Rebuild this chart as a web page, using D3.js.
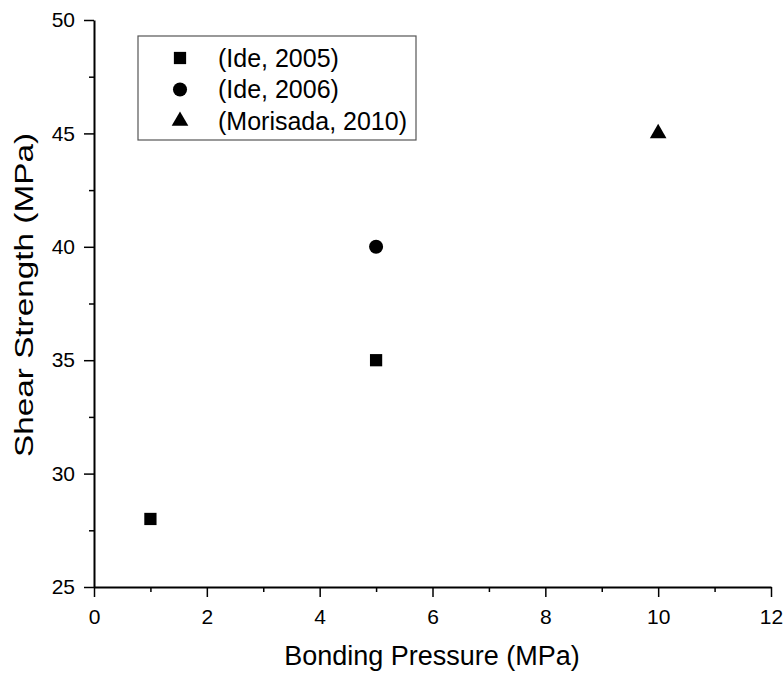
<!DOCTYPE html>
<meta charset="utf-8">
<style>
body { margin: 0; background: #fff; }
svg { font-family: "Liberation Sans", Arial, sans-serif; }
</style>
<body>
<script src="https://d3js.org/d3.v7.min.js"></script>
<script>

// data
var sources = ["(Ide, 2005)", "(Ide, 2006)", "(Morisada, 2010)"];
var symbols = ["square", "circle", "triangle"];
var pressure = [[1, 5], [5], [10]];
var strength = [[28, 35], [40], [45]];
var xTicks = [0, 2, 4, 6, 8, 10, 12];
var yTicks = [25, 30, 35, 40, 45, 50];

var margin = {top: 20, left: 94, right: 13, bottom: 86},
    width = 784 - margin.left - margin.right,
    height = 673 - margin.top - margin.bottom;

var x = d3.scaleLinear().domain([0, 12]).range([0, width]);
var y = d3.scaleLinear().domain([25, 50]).range([height, 0]);

var svg = d3.select("body").append("svg")
    .attr("width", 784)
    .attr("height", 673)
  .append("g")
    .attr("transform", "translate(" + margin.left + "," + margin.top + ")");

// minor ticks first
svg.append("g")
    .attr("transform", "translate(0," + height + ")")
    .call(d3.axisBottom(x).tickValues(d3.range(1, 12, 2)).tickSize(5).tickFormat(""))
    .call(g => g.select(".domain").remove());
svg.append("g")
    .call(d3.axisLeft(y).tickValues(d3.range(27.5, 50, 5)).tickSize(5).tickFormat(""))
    .call(g => g.select(".domain").remove());

svg.append("g")
    .attr("transform", "translate(0," + height + ")")
    .call(d3.axisBottom(x).tickValues(xTicks).tickSize(10).tickSizeOuter(0).tickPadding(12));
svg.append("g")
    .call(d3.axisLeft(y).tickValues(yTicks).tickSize(10).tickSizeOuter(0).tickPadding(9));

svg.selectAll(".tick line").attr("stroke-width", 1.5).attr("stroke", "#000");
svg.selectAll(".domain").attr("stroke-width", 2).attr("stroke", "#000");
svg.selectAll(".tick text")
    .attr("fill", "#000")
    .style("font-size", "21px")
    .style("font-family", "'Liberation Sans', Arial, sans-serif");

// axis titles
svg.append("text")
    .attr("x", 338)
    .attr("y", 645)
    .attr("text-anchor", "middle")
    .style("font-size", "27px")
    .text("Bonding Pressure (MPa)");
svg.append("text")
    .attr("transform", "translate(-61,275) rotate(-90)")
    .attr("text-anchor", "middle")
    .attr("textLength", 324)
    .attr("lengthAdjust", "spacingAndGlyphs")
    .style("font-size", "26px")
    .text("Shear Strength (MPa)");

var shapes = {
  square: d3.symbol().type(d3.symbolSquare).size(150),
  circle: d3.symbol().type(d3.symbolCircle).size(155),
  triangle: d3.symbol().type(d3.symbolTriangle).size(120)
};

// points
sources.forEach(function(s, i) {
  svg.selectAll(".pt" + i)
      .data(d3.zip(pressure[i], strength[i]))
    .enter().append("path")
      .attr("d", shapes[symbols[i]]())
      .attr("transform", d => "translate(" + x(d[0]) + "," + y(d[1]) + ")")
      .attr("fill", "#000");
});

// legend
var legend = svg.append("g").attr("transform", "translate(44,16)");
legend.append("rect")
    .attr("width", 278)
    .attr("height", 104)
    .attr("fill", "#fff")
    .attr("stroke", "#555")
    .attr("stroke-width", 1.2);
sources.forEach(function(s, i) {
  var row = legend.append("g").attr("transform", "translate(0," + (22 + i * 31.5) + ")");
  row.append("path")
      .attr("d", shapes[symbols[i]]())
      .attr("transform", "translate(42,0)")
      .attr("fill", "#000");
  row.append("text")
      .attr("x", 80)
      .attr("y", 8.5)
      .style("font-size", "25px")
      .text(s);
});

</script>
</body>
